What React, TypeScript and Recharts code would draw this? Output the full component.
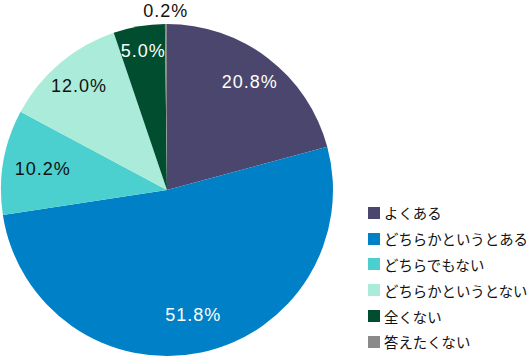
import React from 'react';
import { PieChart, Pie, Cell, Legend } from 'recharts';

const categories = ['よくある', 'どちらかというとある', 'どちらでもない', 'どちらかというとない', '全くない', '答えたくない'];
const shares = [20.8, 51.8, 10.2, 12.0, 5.0, 0.2];

const colors = ['#4a466e', '#0080c6', '#4ccfcf', '#aaecd9', '#014d30', '#8a8a8a'];
const labelColors = ['#ffffff', '#ffffff', '#111111', '#111111', '#ffffff', '#111111'];
// label distance from the centre, as a share of the radius
const labelRadius = [0.82, 0.77, 0.76, 0.82, 0.85, 1.08];

const data = categories.map((name, i) => ({ name, value: shares[i] }));

const RADIAN = Math.PI / 180;

const renderLabel = (props: any) => {
  const { cx, cy, midAngle, outerRadius, index, value } = props;
  const r = outerRadius * labelRadius[index];
  const x = cx + r * Math.cos(-midAngle * RADIAN);
  const y = cy + r * Math.sin(-midAngle * RADIAN);
  return (
    <text
      x={x}
      y={y}
      fill={labelColors[index]}
      textAnchor="middle"
      dominantBaseline="central"
      style={{ fontSize: 18, fontFamily: 'Liberation Sans, Arial, sans-serif', letterSpacing: 1 }}
    >
      {`${value.toFixed(1)}%`}
    </text>
  );
};

const renderLegend = () => (
  <div style={{ fontFamily: '"Noto Sans CJK JP", sans-serif', fontSize: 14.4, color: '#111' }}>
    {data.map((d, i) => (
      <div key={d.name} style={{ display: 'flex', alignItems: 'center', height: 25.8 }}>
        <span style={{ width: 12, height: 12, background: colors[i], marginRight: 4, display: 'inline-block' }} />
        <span>{d.name}</span>
      </div>
    ))}
  </div>
);

export default function App() {
  return (
    <div style={{ position: 'absolute', top: 0, left: 0, width: 532, height: 358, background: '#fff' }}>
      <PieChart width={532} height={358} margin={{ top: 0, right: 0, bottom: 0, left: 0 }}>
        <Pie
          data={data}
          dataKey="value"
          cx={167}
          cy={190}
          outerRadius={166}
          startAngle={90}
          endAngle={-270}
          stroke="none"
          label={renderLabel}
          labelLine={false}
          isAnimationActive={false}
        >
          {data.map((d, i) => (
            <Cell key={d.name} fill={colors[i]} />
          ))}
        </Pie>
        <Legend
          content={renderLegend}
          layout="vertical"
          wrapperStyle={{ position: 'absolute', left: 368, top: 200, width: 170 }}
        />
      </PieChart>
    </div>
  );
}
